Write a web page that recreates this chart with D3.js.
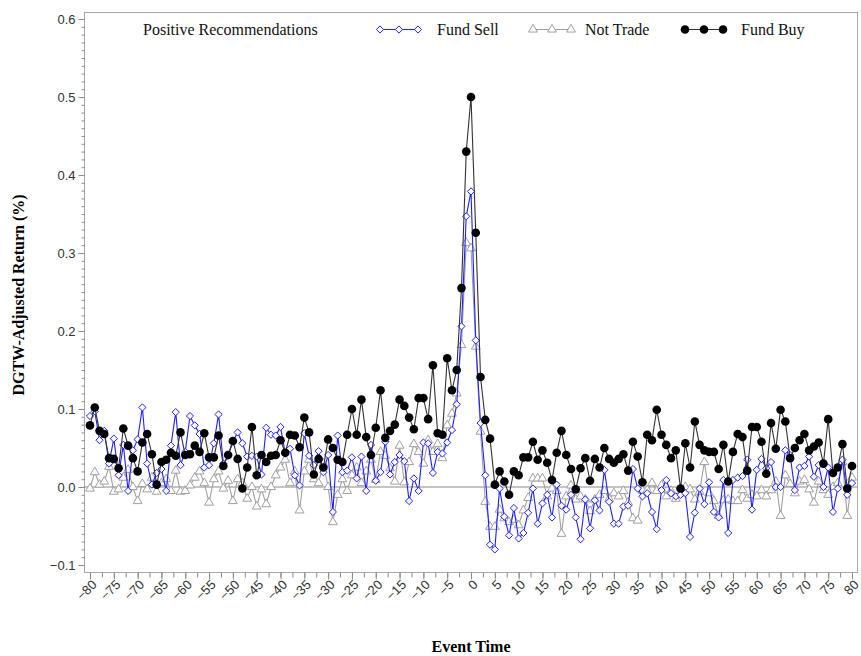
<!DOCTYPE html>
<html>
<head>
<meta charset="utf-8">
<script src="https://cdn.jsdelivr.net/npm/d3@7"></script>
<style>
  body { margin: 0; background: #fff; }
  svg { display: block; }
</style>
</head>
<body>
<div id="chart"></div>
<script>
// event time -80 .. 80
const eventTime = d3.range(-80, 81);

const fundSell = [
  0.091, 0.097, 0.060, 0.072, 0.030, 0.062, 0.015, 0.054, -0.005, 0.047, 0.061, 0.102, 0.030, 0.003, 0.018, 0.023, -0.005, 0.053, 0.096, 0.028,
  0.045, 0.091, 0.079, 0.068, 0.025, 0.028, 0.056, 0.093, 0.030, 0.040, 0.058, 0.070, 0.056, 0.039, 0.040, 0.039, 0.016, 0.076, 0.067, 0.066,
  0.077, 0.043, 0.049, 0.015, 0.002, 0.069, 0.040, 0.028, 0.046, 0.019, 0.041, -0.032, 0.066, 0.019, 0.021, 0.038, 0.011, 0.039, -0.005, 0.054,
  0.008, 0.019, 0.058, 0.016, 0.032, 0.041, 0.033, -0.018, 0.011, -0.005, 0.057, 0.056, 0.018, 0.045, 0.043, 0.057, 0.073, 0.106, 0.206, 0.347,
  0.379, 0.188, 0.082, 0.015, -0.074, -0.080, -0.002, -0.038, -0.062, -0.027, -0.066, -0.059, -0.033, -0.002, -0.047, -0.021, -0.010, -0.039, 0.003, -0.024,
  -0.029, -0.010, -0.039, -0.067, -0.016, -0.053, -0.017, -0.030, 0.022, -0.019, -0.047, -0.047, -0.025, -0.024, 0.023, -0.002, -0.012, -0.008, -0.032, -0.054,
  -0.004, 0.009, -0.008, -0.012, -0.010, -0.008, -0.064, -0.033, -0.002, -0.022, 0.006, -0.032, -0.039, 0.009, -0.059, 0.009, 0.012, 0.014, 0.035, -0.029,
  0.022, 0.036, 0.024, 0.032, 0.000, 0.000, 0.047, 0.041, -0.004, 0.025, 0.027, 0.039, 0.013, 0.028, 0.000, 0.025, -0.032, -0.002, 0.035, -0.010, 0.005
];

const notTrade = [
  -0.002, 0.019, 0.003, 0.007, 0.026, -0.006, -0.003, 0.012, 0.022, 0.000, -0.018, 0.004, -0.003, 0.012, -0.006, 0.005, 0.010, -0.005, 0.021, -0.006,
  -0.005, 0.002, 0.012, 0.020, 0.005, -0.020, 0.010, 0.020, -0.002, 0.008, -0.018, 0.010, 0.005, -0.015, 0.000, -0.025, -0.003, -0.022, 0.000, 0.015,
  0.025, 0.035, 0.005, 0.020, -0.030, 0.020, 0.035, 0.010, 0.005, 0.030, 0.000, -0.045, -0.010, 0.010, -0.005, 0.015, 0.025, 0.005, 0.020, 0.035,
  0.009, 0.045, 0.040, 0.024, 0.007, 0.053, 0.006, 0.032, 0.055, 0.045, 0.030, 0.060, 0.045, 0.055, 0.037, 0.079, 0.094, 0.120, 0.182, 0.313,
  0.306, 0.180, 0.071, -0.019, -0.051, -0.051, -0.029, -0.040, -0.045, -0.042, -0.049, -0.030, -0.014, 0.011, 0.011, 0.011, -0.012, -0.002, -0.005, -0.060,
  -0.012, 0.002, -0.016, -0.012, -0.016, -0.031, -0.016, -0.010, -0.005, -0.015, -0.008, -0.012, -0.005, -0.020, -0.040, -0.043, -0.005, -0.004, 0.005, -0.005,
  0.002, -0.012, -0.005, -0.015, -0.008, 0.000, -0.003, -0.016, -0.006, 0.032, -0.008, -0.018, -0.037, -0.017, -0.016, -0.018, -0.018, -0.004, -0.015, -0.010,
  -0.012, -0.004, -0.012, -0.004, 0.007, -0.037, 0.015, 0.004, -0.008, 0.007, 0.009, -0.003, -0.020, 0.007, -0.004, -0.010, 0.000, 0.005, 0.032, -0.037, 0.012
];

const fundBuy = [
  0.079, 0.102, 0.072, 0.068, 0.037, 0.036, 0.024, 0.075, 0.053, 0.037, 0.020, 0.057, 0.068, 0.042, 0.003, 0.032, 0.035, 0.044, 0.040, 0.070,
  0.041, 0.042, 0.053, 0.045, 0.069, 0.038, 0.038, 0.066, 0.027, 0.041, 0.059, 0.036, -0.002, 0.025, 0.077, 0.015, 0.041, 0.032, 0.040, 0.041,
  0.060, 0.044, 0.067, 0.066, 0.051, 0.089, 0.070, 0.016, 0.036, 0.025, 0.061, 0.050, 0.035, 0.032, 0.067, 0.100, 0.067, 0.112, 0.064, 0.041,
  0.076, 0.124, 0.063, 0.072, 0.080, 0.112, 0.104, 0.089, 0.074, 0.114, 0.114, 0.087, 0.156, 0.069, 0.067, 0.165, 0.124, 0.150, 0.255, 0.430,
  0.500, 0.326, 0.141, 0.086, 0.062, 0.003, 0.020, 0.007, -0.010, 0.020, 0.015, 0.038, 0.038, 0.058, 0.035, 0.047, 0.031, 0.009, 0.044, 0.072,
  0.041, 0.023, -0.003, 0.024, 0.037, 0.008, 0.036, 0.025, 0.050, 0.036, 0.031, 0.036, 0.042, 0.021, 0.058, 0.039, 0.006, 0.067, 0.060, 0.099,
  0.067, 0.054, 0.037, 0.047, -0.002, 0.056, 0.025, 0.084, 0.054, 0.047, 0.045, 0.045, 0.023, 0.054, 0.007, 0.045, 0.068, 0.064, 0.021, 0.077,
  0.077, 0.058, 0.017, 0.082, 0.049, 0.099, 0.084, 0.037, 0.050, 0.060, 0.068, 0.047, 0.052, 0.057, 0.030, 0.087, 0.018, 0.025, 0.055, -0.002, 0.027
];

const xTicks = d3.range(-80, 81, 5);
const yTicks = [-0.1, 0.0, 0.1, 0.2, 0.3, 0.4, 0.5, 0.6];

const W = 861, H = 656;
const frame = {left: 84, right: 857, top: 12, bottom: 572};

const svg = d3.select("#chart").append("svg")
  .attr("width", W).attr("height", H);

const x = d3.scaleLinear().domain([-80, 80]).range([90, 852]);
const y = d3.scaleLinear().domain([-0.1, 0.6]).range([565, 19]);

// plot frame
svg.append("rect")
  .attr("x", frame.left + 0.5).attr("y", frame.top + 0.5)
  .attr("width", frame.right - frame.left).attr("height", frame.bottom - frame.top)
  .attr("fill", "none").attr("stroke", "#a8a8a8");

// y axis
const yAxis = svg.append("g").attr("transform", `translate(${frame.left + 0.5},0)`);
yAxis.append("g")
  .call(d3.axisLeft(y).tickValues(d3.range(-10, 61, 1).map(d => d / 100)).tickSize(3).tickFormat(""))
  .call(g => g.select(".domain").remove());
yAxis.append("g")
  .call(d3.axisLeft(y).tickValues(yTicks).tickSize(6).tickFormat(d3.format(".1f")))
  .call(g => g.select(".domain").remove());
yAxis.selectAll("line").attr("stroke", "#8c8c8c");
yAxis.selectAll("text")
  .attr("font-family", "Liberation Sans, Arial, sans-serif")
  .attr("font-size", 13).attr("fill", "#333");

// x axis
const xAxis = svg.append("g").attr("transform", `translate(0,${frame.bottom + 0.5})`);
xAxis.append("g")
  .call(d3.axisBottom(x).tickValues(d3.range(-80, 81, 2.5)).tickSize(5).tickFormat(""))
  .call(g => g.select(".domain").remove());
xAxis.append("g")
  .call(d3.axisBottom(x).tickValues(xTicks).tickSize(7).tickFormat(d3.format("d")))
  .call(g => g.select(".domain").remove())
  .selectAll("text")
  .attr("x", 0).attr("y", 0).attr("dy", 0)
  .attr("text-anchor", "end")
  .attr("transform", "translate(7,13) rotate(-45)");
xAxis.selectAll("line").attr("stroke", "#8c8c8c");
xAxis.selectAll("text")
  .attr("font-family", "Liberation Sans, Arial, sans-serif")
  .attr("font-size", 13).attr("fill", "#333");

// zero reference line
svg.append("line")
  .attr("x1", frame.left).attr("x2", frame.right)
  .attr("y1", y(0)).attr("y2", y(0))
  .attr("stroke", "#8a8a8a").attr("stroke-width", 1);

const diamond = r => `M0,${-r}L${r},0L0,${r}L${-r},0Z`;
const triangle = d3.symbol().type(d3.symbolTriangle).size(34);

const series = [
  {name: "Not Trade", values: notTrade, color: "#a0a0a0", marker: "triangle"},
  {name: "Fund Sell", values: fundSell, color: "#1f1fff", marker: "diamond"},
  {name: "Fund Buy", values: fundBuy, color: "#333", marker: "circle"}
];

const line = d3.line().x((d, i) => x(eventTime[i])).y(d => y(d));

function drawMarker(g, s) {
  if (s.marker === "diamond") {
    g.append("path").attr("d", diamond(3.6))
      .attr("fill", "#fff").attr("stroke", s.color).attr("stroke-width", 1);
  } else if (s.marker === "triangle") {
    g.append("path").attr("d", triangle())
      .attr("fill", "#fff").attr("stroke", s.color).attr("stroke-width", 1);
  } else {
    g.append("circle").attr("r", 4.3).attr("fill", "#000");
  }
}

series.forEach(s => {
  svg.append("path")
    .datum(s.values)
    .attr("d", line)
    .attr("fill", "none")
    .attr("stroke", s.color)
    .attr("stroke-width", 1.1);
  svg.append("g").selectAll("g")
    .data(s.values)
    .join("g")
    .attr("transform", (d, i) => `translate(${x(eventTime[i])},${y(d)})`)
    .each(function() { drawMarker(d3.select(this), s); });
});

// legend
const legend = svg.append("g").attr("font-family", "Liberation Serif, Times New Roman, serif")
  .attr("font-size", 16).attr("fill", "#111");
legend.append("text").attr("x", 143).attr("y", 35).text("Positive Recommendations");
const legendItems = [
  {s: series[1], x0: 380, tx: 437},
  {s: series[0], x0: 533, tx: 585},
  {s: series[2], x0: 685, tx: 741}
];
legendItems.forEach(item => {
  const g = legend.append("g");
  g.append("line").attr("x1", item.x0).attr("x2", item.x0 + 38)
    .attr("y1", 29.5).attr("y2", 29.5)
    .attr("stroke", item.s.color).attr("stroke-width", 1.1);
  [0, 19, 38].forEach(dx => {
    const m = g.append("g").attr("transform", `translate(${item.x0 + dx},29.5)`);
    drawMarker(m, item.s);
  });
  legend.append("text").attr("x", item.tx).attr("y", 35).text(item.s.name);
});

// axis titles
svg.append("text")
  .attr("x", 471).attr("y", 652)
  .attr("text-anchor", "middle")
  .attr("font-family", "Liberation Serif, Times New Roman, serif")
  .attr("font-weight", "bold").attr("font-size", 16)
  .text("Event Time");

svg.append("text")
  .attr("transform", "rotate(-90)")
  .attr("x", -295).attr("y", 24)
  .attr("text-anchor", "middle")
  .attr("font-family", "Liberation Serif, Times New Roman, serif")
  .attr("font-weight", "bold").attr("font-size", 16)
  .text("DGTW-Adjusted Return (%)");
</script>
</body>
</html>
